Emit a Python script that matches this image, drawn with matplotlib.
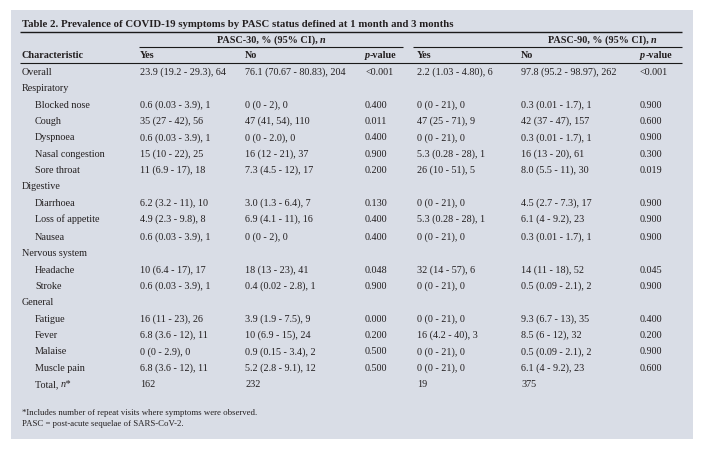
import matplotlib
matplotlib.use('Agg')
import matplotlib.pyplot as plt
from matplotlib.patches import Rectangle

# Table content
characteristics = [
    ("Overall", 0), ("Respiratory", 0), ("Blocked nose", 1), ("Cough", 1),
    ("Dyspnoea", 1), ("Nasal congestion", 1), ("Sore throat", 1),
    ("Digestive", 0), ("Diarrhoea", 1), ("Loss of appetite", 1), ("Nausea", 1),
    ("Nervous system", 0), ("Headache", 1), ("Stroke", 1),
    ("General", 0), ("Fatigue", 1), ("Fever", 1), ("Malaise", 1), ("Muscle pain", 1),
    ("Total, ", 1),
]
yes30 = ["23.9 (19.2 - 29.3), 64", "", "0.6 (0.03 - 3.9), 1", "35 (27 - 42), 56",
         "0.6 (0.03 - 3.9), 1", "15 (10 - 22), 25", "11 (6.9 - 17), 18",
         "", "6.2 (3.2 - 11), 10", "4.9 (2.3 - 9.8), 8", "0.6 (0.03 - 3.9), 1",
         "", "10 (6.4 - 17), 17", "0.6 (0.03 - 3.9), 1",
         "", "16 (11 - 23), 26", "6.8 (3.6 - 12), 11", "0 (0 - 2.9), 0", "6.8 (3.6 - 12), 11",
         "162"]
no30 = ["76.1 (70.67 - 80.83), 204", "", "0 (0 - 2), 0", "47 (41, 54), 110",
        "0 (0 - 2.0), 0", "16 (12 - 21), 37", "7.3 (4.5 - 12), 17",
        "", "3.0 (1.3 - 6.4), 7", "6.9 (4.1 - 11), 16", "0 (0 - 2), 0",
        "", "18 (13 - 23), 41", "0.4 (0.02 - 2.8), 1",
        "", "3.9 (1.9 - 7.5), 9", "10 (6.9 - 15), 24", "0.9 (0.15 - 3.4), 2", "5.2 (2.8 - 9.1), 12",
        "232"]
p30 = ["<0.001", "", "0.400", "0.011", "0.400", "0.900", "0.200",
       "", "0.130", "0.400", "0.400", "", "0.048", "0.900",
       "", "0.000", "0.200", "0.500", "0.500", ""]
yes90 = ["2.2 (1.03 - 4.80), 6", "", "0 (0 - 21), 0", "47 (25 - 71), 9",
         "0 (0 - 21), 0", "5.3 (0.28 - 28), 1", "26 (10 - 51), 5",
         "", "0 (0 - 21), 0", "5.3 (0.28 - 28), 1", "0 (0 - 21), 0",
         "", "32 (14 - 57), 6", "0 (0 - 21), 0",
         "", "0 (0 - 21), 0", "16 (4.2 - 40), 3", "0 (0 - 21), 0", "0 (0 - 21), 0",
         "19"]
no90 = ["97.8 (95.2 - 98.97), 262", "", "0.3 (0.01 - 1.7), 1", "42 (37 - 47), 157",
        "0.3 (0.01 - 1.7), 1", "16 (13 - 20), 61", "8.0 (5.5 - 11), 30",
        "", "4.5 (2.7 - 7.3), 17", "6.1 (4 - 9.2), 23", "0.3 (0.01 - 1.7), 1",
        "", "14 (11 - 18), 52", "0.5 (0.09 - 2.1), 2",
        "", "9.3 (6.7 - 13), 35", "8.5 (6 - 12), 32", "0.5 (0.09 - 2.1), 2", "6.1 (4 - 9.2), 23",
        "375"]
p90 = ["<0.001", "", "0.900", "0.600", "0.900", "0.300", "0.019",
       "", "0.900", "0.900", "0.900", "", "0.045", "0.900",
       "", "0.400", "0.200", "0.900", "0.600", ""]

title = "Table 2. Prevalence of COVID-19 symptoms by PASC status defined at 1 month and 3 months"
footnotes = ["*Includes number of repeat visits where symptoms were observed.",
             "PASC = post-acute sequelae of SARS-CoV-2."]

W, H = 706, 451
FONT = 'Liberation Serif'
TXT = '#231f20'
BG = '#d9dde6'
FS = 7.3

fig = plt.figure(figsize=(W / 100, H / 100), dpi=100)
ax = fig.add_axes([0, 0, 1, 1])
ax.set_xlim(0, W)
ax.set_ylim(H, 0)
ax.axis('off')
ax.add_patch(Rectangle((11, 10), 682, 429, facecolor=BG, edgecolor='none'))

renderer = fig.canvas.get_renderer()


def txt(x, y, s, size=FS, weight='normal', style='normal'):
    return ax.text(x, y, s, fontsize=size, fontweight=weight, fontstyle=style,
                   family=FONT, color=TXT, va='baseline', ha='left')


def rich(x, y, parts, size=FS):
    # parts: list of (text, weight, style), drawn one after the other
    for s, weight, style in parts:
        t = txt(x, y, s, size, weight, style)
        bb = t.get_window_extent(renderer)
        x += bb.width


def hline(x0, x1, y, lw=0.8):
    ax.plot([x0, x1], [y, y], color='#1a1a1a', lw=lw, solid_capstyle='butt')


# title and rules
txt(22, 27, title, size=7.75, weight='bold')
hline(20, 682, 32, lw=1.0)
hline(139, 403, 47)
hline(413, 682, 47)
hline(20, 682, 63)

# group headers
rich(217, 43, [("PASC-30, % (95% CI),", 'bold', 'normal'), (" ", 'bold', 'normal'),
               ("n", 'bold', 'italic')])
rich(548, 43, [("PASC-90, % (95% CI),", 'bold', 'normal'), (" ", 'bold', 'normal'),
               ("n", 'bold', 'italic')])

# column headers
col_x = [22, 140, 245, 365, 417, 521, 640]
y_head = 58
txt(col_x[0], y_head, "Characteristic", weight='bold')
for cx, lab in zip(col_x[1:], ["Yes", "No", None, "Yes", "No", None]):
    if lab is None:
        rich(cx, y_head, [("p", 'bold', 'italic'), ("-value", 'bold', 'normal')])
    else:
        txt(cx, y_head, lab, weight='bold')

# body rows
y0, step = 75, 16.35
for i, (name, indent) in enumerate(characteristics):
    y = y0 + i * step
    if i >= 10:
        y += 1.5
    x = col_x[0] + (13 if indent else 0)
    if name.startswith("Total"):
        rich(x, y, [(name, 'normal', 'normal'), ("n*", 'normal', 'italic')])
    else:
        txt(x, y, name)
    for cx, col in zip(col_x[1:], [yes30, no30, p30, yes90, no90, p90]):
        if col[i]:
            txt(cx, y, col[i])

# footnotes
txt(22, 415, footnotes[0], size=6.3)
txt(22, 426, footnotes[1], size=6.3)

fig.savefig('out.png', dpi=100, facecolor='white')
